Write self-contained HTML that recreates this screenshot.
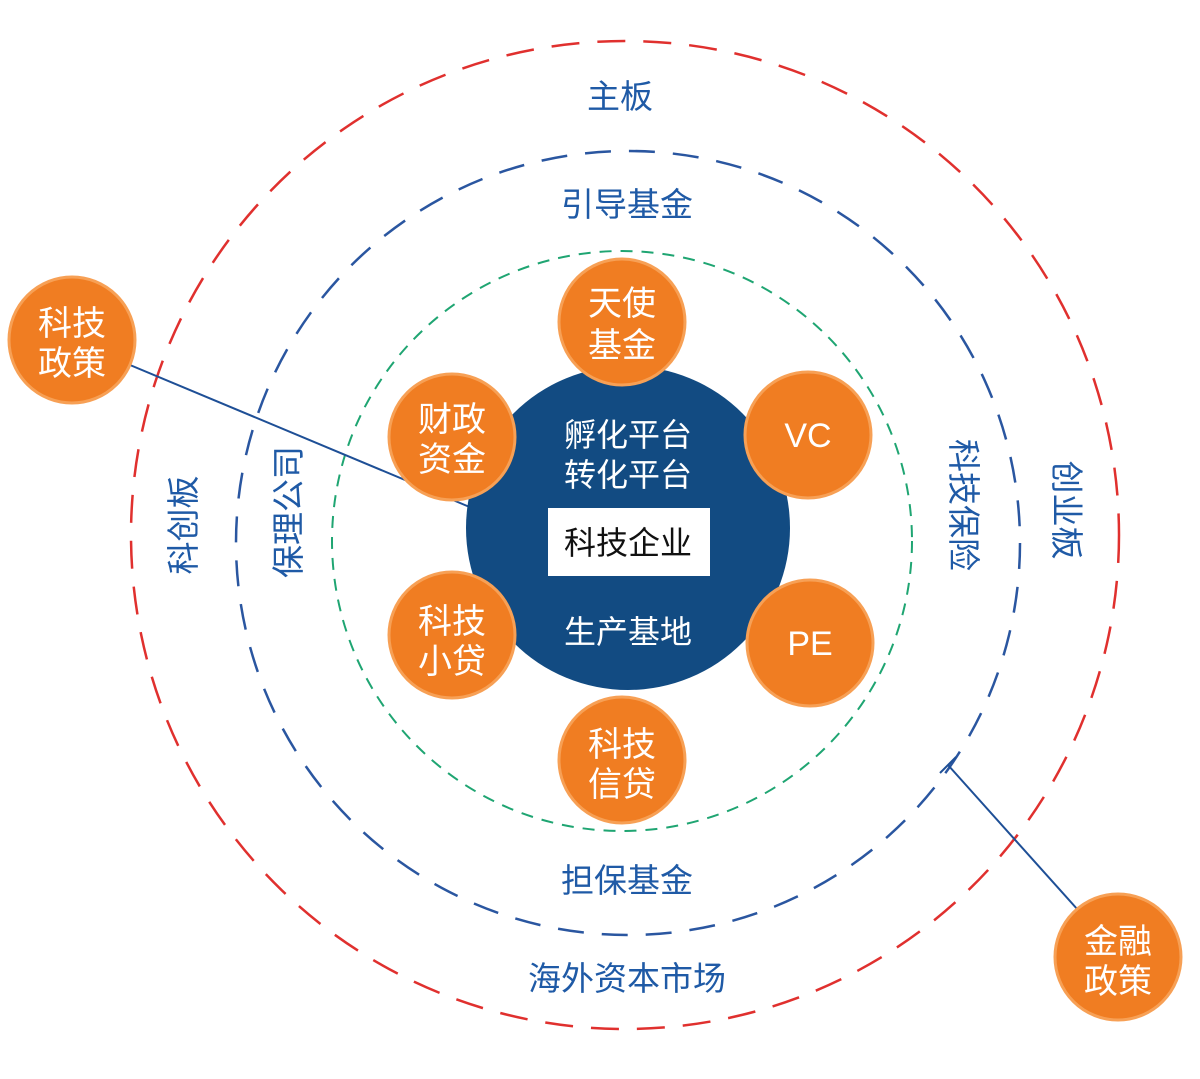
<!DOCTYPE html>
<html><head><meta charset="utf-8"><style>
html,body{margin:0;padding:0;background:#fff;}
svg text{font-family:"Liberation Sans","Noto Sans CJK SC",sans-serif;}
</style></head><body>
<svg width="1200" height="1074" viewBox="0 0 1200 1074" xmlns="http://www.w3.org/2000/svg">
<circle cx="625" cy="535" r="494" fill="none" stroke="#e0302e" stroke-width="2.5" stroke-dasharray="28 18"/>
<circle cx="628" cy="543" r="392" fill="none" stroke="#2a56a0" stroke-width="2.5" stroke-dasharray="26 18"/>
<circle cx="622" cy="541" r="290" fill="none" stroke="#1fa572" stroke-width="2" stroke-dasharray="12 9"/>
<line x1="130" y1="365" x2="472" y2="508" stroke="#1e4f96" stroke-width="2"/>
<line x1="948" y1="765" x2="1078" y2="910" stroke="#1e4f96" stroke-width="2"/>
<line x1="940" y1="773" x2="956" y2="757" stroke="#1e4f96" stroke-width="2"/>
<circle cx="628" cy="528" r="162" fill="#124b82"/>
<rect x="548" y="508" width="162" height="68" fill="#fff"/>
<g fill="#fff" font-size="32" text-anchor="middle">
<text x="628" y="446">孵化平台</text>
<text x="628" y="486">转化平台</text>
<text x="628" y="643">生产基地</text>
</g>
<text x="628" y="554" font-size="32" text-anchor="middle" fill="#111">科技企业</text>
<g fill="#f07d22" stroke="#f7a055" stroke-width="3">
<circle cx="622" cy="322" r="63"/><circle cx="808" cy="435" r="63"/><circle cx="810" cy="643" r="63"/>
<circle cx="622" cy="760" r="63"/><circle cx="452" cy="635" r="63"/><circle cx="452" cy="437" r="63"/>
<circle cx="72" cy="340" r="63"/><circle cx="1118" cy="957" r="63"/>
</g>
<g fill="#fff" font-size="34" text-anchor="middle">
<text x="622" y="315">天使</text><text x="622" y="357">基金</text>
<text x="808" y="447">VC</text><text x="810" y="655">PE</text>
<text x="622" y="756">科技</text><text x="622" y="796">信贷</text>
<text x="452" y="633">科技</text><text x="452" y="673">小贷</text>
<text x="452" y="431">财政</text><text x="452" y="471">资金</text>
<text x="72" y="335">科技</text><text x="72" y="375">政策</text>
<text x="1118" y="953">金融</text><text x="1118" y="993">政策</text>
</g>
<g fill="#1f5aa6" font-size="33" text-anchor="middle">
<text x="620" y="108">主板</text>
<text x="627" y="216">引导基金</text>
<text x="627" y="892">担保基金</text>
<text x="627" y="990">海外资本市场</text>
<text transform="translate(195,525) rotate(-90)">科创板</text>
<text transform="translate(300,512) rotate(-90)">保理公司</text>
<text transform="translate(952,505) rotate(90)">科技保险</text>
<text transform="translate(1055,510) rotate(90)">创业板</text>
</g>
</svg>
</body></html>
